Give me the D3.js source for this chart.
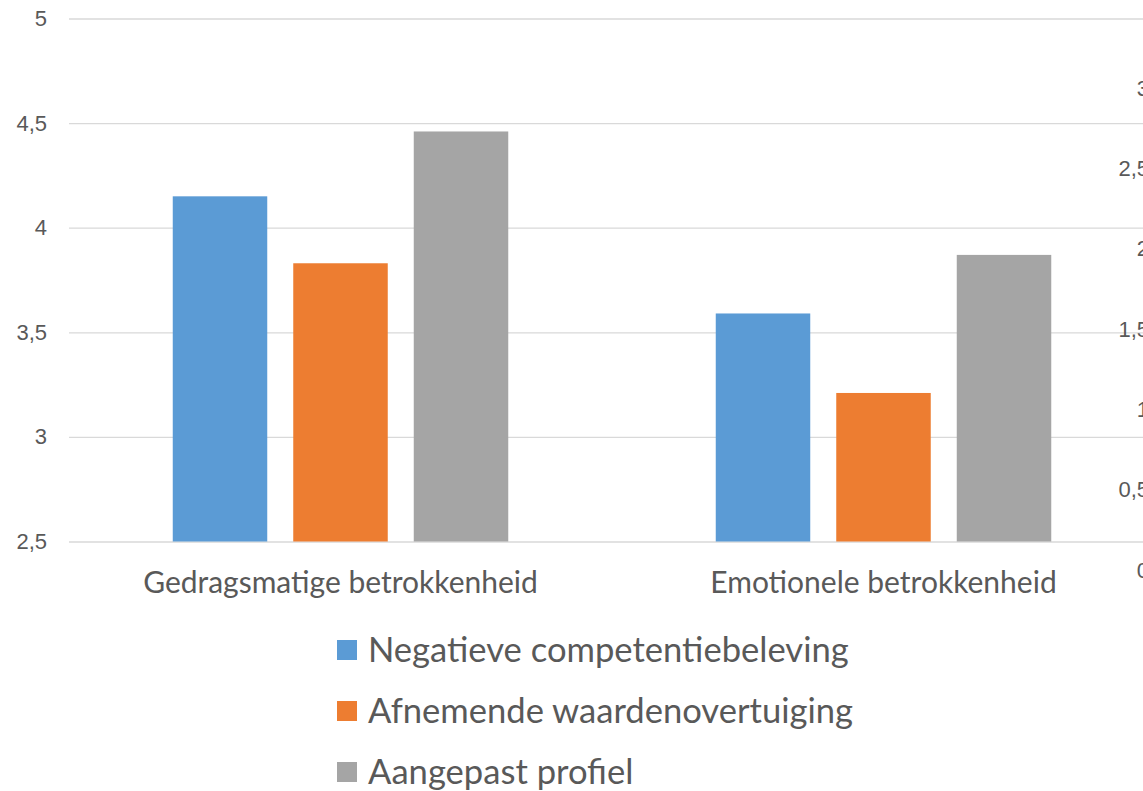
<!DOCTYPE html>
<html>
<head>
<meta charset="utf-8">
<script src="https://cdn.jsdelivr.net/npm/d3@7"></script>
<style>
  body { margin: 0; background: #fff; }
  svg { display: block; font-family: Lato, "Open Sans", sans-serif; }
</style>
</head>
<body>
<div id="chart"></div>
<script>
// Data
const categories = ["Gedragsmatige betrokkenheid", "Emotionele betrokkenheid"];
const seriesNames = ["Negatieve competentiebeleving", "Afnemende waardenovertuiging", "Aangepast profiel"];
const negatieveCompetentie = [4.15, 3.59];
const afnemendeWaarden = [3.83, 3.21];
const aangepastProfiel = [4.46, 3.87];
const leftTicks = [2.5, 3, 3.5, 4, 4.5, 5];
const rightTicks = [0, 0.5, 1, 1.5, 2, 2.5, 3];

const colors = ["#5B9BD5", "#ED7D31", "#A5A5A5"];
const seriesValues = [negatieveCompetentie, afnemendeWaarden, aangepastProfiel];

const width = 1143, height = 791;
const plot = { left: 69, right: 1155, top: 18.5, bottom: 541.5 };

const fmt = v => String(v).replace(".", ",");

const svg = d3.select("#chart")
    .append("svg")
    .attr("width", width)
    .attr("height", height);

// Scales
const x0 = d3.scaleBand()
    .domain(categories)
    .range([plot.left, plot.right]);

const clusterWidth = 335.5;
const x1 = d3.scaleBand()
    .domain(seriesNames)
    .range([(x0.bandwidth() - clusterWidth) / 2, (x0.bandwidth() + clusterWidth) / 2])
    .paddingInner(0.2158);

const y = d3.scaleLinear()
    .domain([2.5, 5])
    .range([plot.bottom, plot.top]);

// second (cut off) axis on the right edge
const yRight = d3.scaleLinear()
    .domain([0, 3])
    .range([570, 88]);

// Left axis + gridlines
const yAxis = svg.append("g")
    .attr("transform", `translate(${plot.left},0)`)
    .call(d3.axisLeft(y)
        .tickValues(leftTicks)
        .tickFormat(fmt)
        .tickSize(-(plot.right - plot.left))
        .tickPadding(22));
yAxis.select(".domain").remove();
yAxis.selectAll(".tick line").attr("stroke", "#D9D9D9").attr("stroke-width", 1.3);
yAxis.selectAll(".tick text")
    .attr("fill", "#595959")
    .style("font-size", "22px");

// Right axis (labels only, cut off by the edge as in the original)
const yAxisRight = svg.append("g")
    .attr("transform", "translate(1151,0)")
    .call(d3.axisLeft(yRight)
        .tickValues(rightTicks)
        .tickFormat(fmt)
        .tickSize(0)
        .tickPadding(2));
yAxisRight.select(".domain").remove();
yAxisRight.selectAll(".tick text")
    .attr("fill", "#595959")
    .style("font-size", "22px");

// Bars
const rows = [];
categories.forEach((c, i) => {
    seriesNames.forEach((s, j) => {
        rows.push({ category: c, series: s, value: seriesValues[j][i], color: colors[j] });
    });
});

svg.append("g")
    .selectAll("rect")
    .data(rows)
    .enter().append("rect")
    .attr("x", d => x0(d.category) + x1(d.series))
    .attr("y", d => y(d.value))
    .attr("width", x1.bandwidth())
    .attr("height", d => y(2.5) - y(d.value))
    .attr("fill", d => d.color);

// Category labels
svg.append("g")
    .selectAll("text")
    .data(categories)
    .enter().append("text")
    .attr("x", d => x0(d) + x0.bandwidth() / 2)
    .attr("y", 593)
    .attr("text-anchor", "middle")
    .attr("fill", "#595959")
    .style("font-size", "30px")
    .text(d => d);

// Legend
const legend = svg.append("g")
    .selectAll("g")
    .data(seriesNames)
    .enter().append("g")
    .attr("transform", (d, i) => `translate(337,${640 + i * 61})`);

legend.append("rect")
    .attr("width", 20)
    .attr("height", 20)
    .attr("fill", (d, i) => colors[i]);

legend.append("text")
    .attr("x", 31)
    .attr("y", 22)
    .attr("fill", "#595959")
    .style("font-size", "34.6px")
    .text(d => d);
</script>
</body>
</html>
